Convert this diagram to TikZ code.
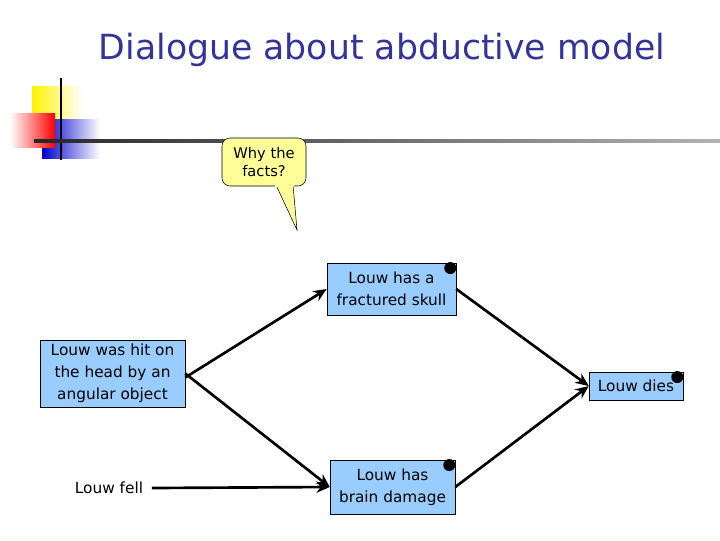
\documentclass[tikz,border=0pt]{standalone}
\usepackage{fontspec}
\setmainfont{DejaVu Sans}
\usepackage{tikz}
\usetikzlibrary{arrows.meta}
\definecolor{box blue}{RGB}{153,204,255}
\definecolor{title blue}{RGB}{51,51,153}
\definecolor{note yellow}{RGB}{255,255,153}

\begin{document}
\begin{tikzpicture}[x=0.75pt,y=-0.75pt,
		fact/.style={draw, fill=box blue, align=center, inner sep=0pt, font=\fontsize{11.5}{16.5}\selectfont},
		link/.style={line width=2pt, -{Stealth[length=3.5mm,width=3mm]}}]
			\useasboundingbox (0,0) rectangle (720,540);
			\node[text=title blue, font=\fontsize{26}{30}\selectfont] (title) at (382,50){Dialogue about abductive model};
			% corner decoration
			\shade[left color=yellow!90!orange, right color=white] (32,86) rectangle (82,119);
			\shade[left color=blue!80!black, right color=white] (42,119) rectangle (100,158);
			\shade[left color=white, right color=red] (10,113) rectangle (55,147);
			\draw[line width=1.5pt] (61,78) -- (61,160);
			\shade[left color=black!85, right color=gray!60] (34,139.5) rectangle (720,142.5);
			% callout
			\draw[fill=note yellow, rounded corners=6pt] (222,138) rectangle (306,186);
			\draw[fill=note yellow] (276,185) -- (297,230) -- (293,185);
			\fill[note yellow] (275,183) rectangle (294,187);
			\node[align=center, font=\fontsize{11}{14}\selectfont] (why) at (264,162){Why the\\facts?};
			% facts
			\node[fact, minimum width=96.75pt, minimum height=39pt] (skull) at (391.5,289){Louw has a\\fractured skull};
			\node[fact, minimum width=108.75pt, minimum height=50pt] (hit) at (112.5,373.5){Louw was hit on\\the head by an\\angular object};
			\node[fact, minimum width=70.5pt, minimum height=21pt] (dies) at (636,386){Louw dies};
			\node[fact, minimum width=93.75pt, minimum height=40.5pt] (brain) at (392.5,487){Louw has\\brain damage};
			\node[font=\fontsize{11.5}{16}\selectfont] (fell) at (109,488){Louw fell};
			\foreach \n in {skull,brain,dies}
				\fill ([xshift=-4.5pt,yshift=-4pt]\n.north east) circle (4.5pt);
			% links
			\draw[link] ([yshift=-3pt]hit.east) -- (skull.west);
			\draw[link] (hit.east) -- (brain.west);
			\draw[link] ([xshift=3pt]fell.east) -- (brain.west);
			\draw[link] (skull.east) -- (dies.west);
			\draw[link] (brain.east) -- (dies.west);
		\end{tikzpicture}
\end{document}
